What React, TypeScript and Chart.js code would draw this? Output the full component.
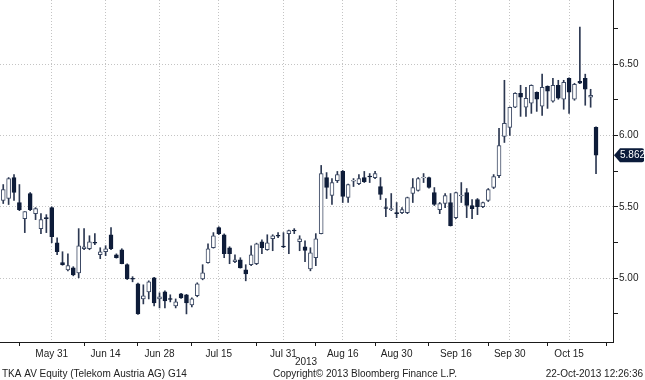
import React, { useEffect, useRef } from 'react';
import { Chart, registerables } from 'chart.js';
Chart.register(...registerables);

// Daily OHLC, TKA AV Equity (trading-day index 0..111, last = 22-Oct-2013)
const opens = [
  5.487, 5.544, 5.558, 5.705, 5.530, 5.417, 5.593, 5.452, 5.347, 5.424,
  5.494, 5.248, 5.108, 5.058, 5.072, 5.037, 5.206, 5.206, 5.251, 5.164,
  5.185, 5.304, 5.164, 5.199, 5.094, 4.998, 4.960, 4.854, 4.904, 5.002,
  4.854, 4.904, 4.857, 4.805, 4.890, 4.883, 4.812, 4.876, 4.995, 5.108,
  5.213, 5.354, 5.304, 5.213, 5.115, 5.129, 5.058, 5.094, 5.101, 5.255,
  5.199, 5.276, 5.300, 5.224, 5.312, 5.336, 5.255, 5.220, 5.065, 5.143,
  5.312, 5.705, 5.579, 5.684, 5.748, 5.565, 5.680, 5.663, 5.705, 5.715,
  5.705, 5.642, 5.495, 5.480, 5.459, 5.459, 5.459, 5.593, 5.614, 5.702,
  5.705, 5.600, 5.480, 5.523, 5.530, 5.424, 5.576, 5.600, 5.509, 5.551,
  5.501, 5.544, 5.635, 5.719, 5.994, 6.057, 6.198, 6.296, 6.198, 6.226,
  6.303, 6.205, 6.345, 6.240, 6.352, 6.254, 6.401, 6.254, 6.380, 6.401,
  6.268, 6.057,
];
const highs = [
  5.550, 5.656, 5.705, 5.726, 5.656, 5.466, 5.600, 5.494, 5.452, 5.445,
  5.500, 5.283, 5.185, 5.171, 5.080, 5.347, 5.347, 5.297, 5.312, 5.213,
  5.227, 5.354, 5.170, 5.206, 5.100, 5.010, 4.965, 4.953, 4.981, 5.005,
  4.897, 4.911, 4.883, 4.854, 4.893, 4.886, 4.861, 4.967, 5.094, 5.241,
  5.319, 5.360, 5.310, 5.220, 5.164, 5.143, 5.094, 5.227, 5.245, 5.269,
  5.304, 5.304, 5.319, 5.319, 5.336, 5.347, 5.297, 5.262, 5.213, 5.312,
  5.790, 5.740, 5.698, 5.748, 5.755, 5.660, 5.698, 5.726, 5.748, 5.733,
  5.748, 5.705, 5.558, 5.593, 5.530, 5.494, 5.568, 5.698, 5.705, 5.733,
  5.708, 5.635, 5.530, 5.593, 5.593, 5.603, 5.670, 5.628, 5.551, 5.558,
  5.533, 5.628, 5.726, 6.050, 6.387, 6.200, 6.300, 6.352, 6.338, 6.355,
  6.306, 6.430, 6.348, 6.401, 6.387, 6.387, 6.405, 6.366, 6.760, 6.430,
  6.324, 6.060,
];
const lows = [
  5.470, 5.523, 5.516, 5.544, 5.473, 5.319, 5.473, 5.410, 5.312, 5.319,
  5.248, 5.164, 5.090, 5.051, 5.016, 5.002, 5.199, 5.199, 5.234, 5.136,
  5.157, 5.200, 5.140, 5.100, 4.990, 4.974, 4.745, 4.819, 4.854, 4.805,
  4.791, 4.791, 4.833, 4.791, 4.858, 4.749, 4.798, 4.869, 4.988, 5.105,
  5.210, 5.305, 5.143, 5.101, 5.108, 5.070, 4.981, 5.087, 5.094, 5.171,
  5.195, 5.192, 5.283, 5.213, 5.171, 5.312, 5.192, 5.115, 5.051, 5.087,
  5.310, 5.558, 5.516, 5.670, 5.530, 5.530, 5.642, 5.656, 5.670, 5.670,
  5.698, 5.551, 5.431, 5.473, 5.424, 5.452, 5.452, 5.530, 5.610, 5.670,
  5.630, 5.509, 5.452, 5.494, 5.365, 5.417, 5.530, 5.424, 5.417, 5.445,
  5.494, 5.537, 5.628, 5.705, 5.951, 6.001, 6.195, 6.134, 6.134, 6.155,
  6.169, 6.141, 6.190, 6.233, 6.254, 6.184, 6.155, 6.247, 6.363, 6.212,
  6.198, 5.733,
];
const closes = [
  5.530, 5.621, 5.698, 5.600, 5.480, 5.466, 5.480, 5.487, 5.410, 5.417,
  5.290, 5.185, 5.094, 5.087, 5.023, 5.227, 5.220, 5.255, 5.245, 5.185,
  5.206, 5.206, 5.143, 5.101, 4.995, 4.992, 4.749, 4.876, 4.974, 4.826,
  4.868, 4.840, 4.851, 4.833, 4.861, 4.826, 4.854, 4.960, 5.037, 5.206,
  5.297, 5.312, 5.171, 5.171, 5.129, 5.072, 5.030, 5.164, 5.241, 5.213,
  5.248, 5.297, 5.294, 5.218, 5.333, 5.330, 5.276, 5.195, 5.178, 5.276,
  5.733, 5.635, 5.670, 5.726, 5.572, 5.656, 5.686, 5.698, 5.677, 5.709,
  5.733, 5.586, 5.488, 5.487, 5.452, 5.480, 5.565, 5.635, 5.698, 5.708,
  5.635, 5.516, 5.523, 5.579, 5.368, 5.600, 5.582, 5.509, 5.487, 5.501,
  5.530, 5.621, 5.712, 5.930, 6.085, 6.198, 6.296, 6.268, 6.261, 6.352,
  6.254, 6.338, 6.310, 6.352, 6.261, 6.373, 6.303, 6.359, 6.366, 6.324,
  6.282, 5.862,
];

const dateTickIndex = [10, 20, 30, 41, 53, 64, 74, 85, 95, 106];
const dateTickLabels = ['May 31', 'Jun 14', 'Jun 28', 'Jul 15', 'Jul 31', 'Aug 16', 'Aug 30', 'Sep 16', 'Sep 30', 'Oct 15'];
const minorDateTickIndex = [4, 16, 26, 36, 48, 59, 70, 80, 91, 102, 113];
const priceTicks = [4.75, 5.0, 5.25, 5.5, 5.75, 6.0, 6.25, 6.5, 6.75];
const yearLabel = '2013';
const footerLeft = 'TKA AV Equity (Telekom Austria AG) G14';
const footerCenter = 'Copyright\u00A9 2013 Bloomberg Finance L.P.';
const footerRight = '22-Oct-2013 12:26:36';

const NAVY = '#0e1c39';
const OUTLINE = '#3b4863';
const WICK = '#2c3852';
const GRID = '#c4c4c4';
const AXIS = '#1a1a1a';
const TEXT = '#222222';
const FONT = '"Liberation Sans", Arial, sans-serif';

export default function App() {
  const ref = useRef<HTMLCanvasElement | null>(null);

  useEffect(() => {
    document.body.style.margin = '0';
    const canvas = ref.current;
    if (!canvas) return;
    const up = (i: number) => closes[i] >= opens[i];
    const majorX = new Set(dateTickIndex);

    const textPlugin = {
      id: 'bbgText',
      afterDraw(chart: any) {
        const ctx = chart.ctx;
        const ys = chart.scales.y;
        const area = chart.chartArea;
        ctx.save();
        ctx.fillStyle = TEXT;
        ctx.font = `10px ${FONT}`;
        ctx.textBaseline = 'middle';
        ctx.textAlign = 'center';
        ctx.fillText(yearLabel, 306, 362);
        ctx.textAlign = 'left';
        ctx.fillText(footerLeft, 2, 374);
        ctx.textAlign = 'center';
        ctx.fillText(footerCenter, 365, 374);
        ctx.textAlign = 'right';
        ctx.fillText(footerRight, 643, 374);

        // last price tag
        const last = closes[closes.length - 1];
        const py = ys.getPixelForValue(last);
        const ax = area.right;
        ctx.fillStyle = '#0b1b3a';
        ctx.beginPath();
        ctx.moveTo(ax + 1, py);
        ctx.lineTo(ax + 7, py - 7);
        ctx.lineTo(642, py - 7);
        ctx.quadraticCurveTo(644, py - 7, 644, py - 5);
        ctx.lineTo(644, py + 5);
        ctx.quadraticCurveTo(644, py + 7, 642, py + 7);
        ctx.lineTo(ax + 7, py + 7);
        ctx.closePath();
        ctx.fill();
        ctx.fillStyle = '#ffffff';
        ctx.textAlign = 'left';
        ctx.font = `10px ${FONT}`;
        ctx.fillText(last.toFixed(3), ax + 7, py + 0.5);
        ctx.restore();
      },
    };

    const chart = new Chart(canvas, {
      type: 'bar',
      data: {
        datasets: [
          {
            label: 'wick',
            data: highs.map((h, i) => ({ x: i, y: [lows[i], h] })) as any,
            backgroundColor: WICK,
            borderWidth: 0,
            barThickness: 1,
            grouped: false,
            order: 2,
          },
          {
            label: 'body',
            data: opens.map((o, i) => ({ x: i, y: [o, closes[i]] })) as any,
            backgroundColor: (c: any) => (up(c.dataIndex) ? '#ffffff' : NAVY),
            borderColor: (c: any) => (up(c.dataIndex) ? OUTLINE : NAVY),
            borderWidth: 1,
            borderSkipped: false,
            barThickness: 4,
            grouped: false,
            order: 1,
          },
        ],
      },
      options: {
        responsive: false,
        animation: false,
        events: [],
        layout: { padding: 0 },
        plugins: { legend: { display: false }, tooltip: { enabled: false } },
        scales: {
          x: {
            type: 'linear',
            min: 0.4,
            max: 114.15,
            offset: false,
            afterBuildTicks: (s: any) => {
              s.ticks = [...dateTickIndex, ...minorDateTickIndex]
                .sort((a, b) => a - b)
                .map((v) => ({ value: v }));
            },
            afterFit: (s: any) => {
              s.height = 38;
              s.paddingLeft = 0;
              s.paddingRight = 0;
            },
            ticks: {
              autoSkip: false,
              maxRotation: 0,
              minRotation: 0,
              padding: 2,
              color: TEXT,
              font: { family: FONT, size: 10 },
              callback: (v: any) => {
                const idx = dateTickIndex.indexOf(Number(v));
                return idx >= 0 ? dateTickLabels[idx] : '';
              },
            },
            grid: {
              offset: false,
              drawOnChartArea: true,
              drawTicks: true,
              tickLength: 4,
              lineWidth: 1,
              color: (c: any) => (c.tick && majorX.has(c.tick.value) ? GRID : 'rgba(0,0,0,0)'),
              tickColor: (c: any) => (c.tick && majorX.has(c.tick.value) ? 'rgba(0,0,0,0)' : AXIS),
            },
            border: { display: true, color: AXIS, width: 1, dash: [1, 2] },
          },
          y: {
            type: 'linear',
            position: 'right',
            min: 4.552,
            max: 6.95,
            beginAtZero: false,
            afterBuildTicks: (s: any) => {
              s.ticks = priceTicks.map((v) => ({ value: v }));
            },
            afterFit: (s: any) => {
              s.width = 32;
              s.paddingTop = 0;
              s.paddingBottom = 0;
            },
            ticks: {
              autoSkip: false,
              padding: 1,
              color: TEXT,
              font: { family: FONT, size: 10 },
              callback: (v: any) => {
                const n = Number(v);
                return Math.abs(n * 2 - Math.round(n * 2)) < 1e-6 ? n.toFixed(2) : '';
              },
            },
            grid: {
              drawOnChartArea: true,
              drawTicks: true,
              tickLength: 5,
              lineWidth: 1,
              color: (c: any) => {
                const n = c.tick ? c.tick.value : 0;
                return Math.abs(n * 2 - Math.round(n * 2)) < 1e-6 ? GRID : 'rgba(0,0,0,0)';
              },
              tickColor: AXIS,
            },
            border: { display: true, color: AXIS, width: 1, dash: [1, 2] },
          },
        },
      },
      plugins: [textPlugin],
    } as any);

    return () => chart.destroy();
  }, []);

  return (
    <div style={{ width: 645, height: 380, background: '#ffffff' }}>
      <canvas ref={ref} width={645} height={380} style={{ display: 'block' }} />
    </div>
  );
}
